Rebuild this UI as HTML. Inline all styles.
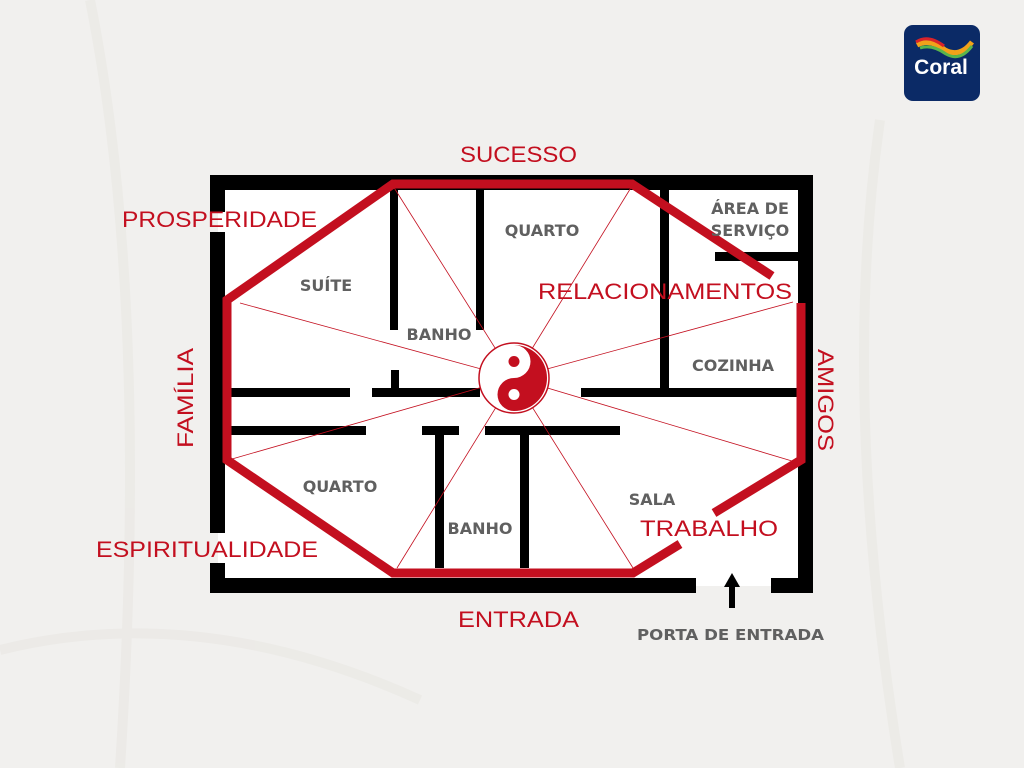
<!DOCTYPE html>
<html><head><meta charset="utf-8"><style>
body{margin:0;width:1024px;height:768px;background:#f1f0ee;overflow:hidden}
svg{display:block}
.r{fill:#c30f1f;font-family:"Liberation Sans",sans-serif;font-size:22px;font-weight:500}
.g{fill:#606060;font-family:"DejaVu Sans","Liberation Sans",sans-serif;font-size:16px;font-weight:bold}
</style></head><body>
<svg width="1024" height="768" viewBox="0 0 1024 768">
<rect width="1024" height="768" fill="#f1f0ee"/>
<g stroke="#e9e7e3" stroke-width="10" fill="none" opacity="0.6">
<path d="M90 0 Q150 300 120 768"/><path d="M880 120 Q840 400 900 768"/><path d="M0 650 Q200 600 420 700"/>
</g>
<rect x="218" y="182" width="588" height="404" fill="#fff"/>
<g fill="#000">
<rect x="210" y="175" width="603" height="15"/>
<rect x="210" y="175" width="15" height="37"/>
<rect x="210" y="232" width="15" height="301"/>
<rect x="210" y="563" width="15" height="30"/>
<rect x="798" y="175" width="15" height="418"/>
<rect x="210" y="578" width="486" height="15"/>
<rect x="771" y="578" width="42" height="15"/>
<rect x="390" y="188" width="8" height="142"/>
<rect x="476" y="188" width="8" height="142"/>
<rect x="660" y="188" width="9" height="200"/>
<rect x="715" y="252" width="85" height="9"/>
<rect x="231" y="388" width="119" height="9"/>
<rect x="372" y="388" width="108" height="9"/>
<rect x="391" y="370" width="8" height="20"/>
<rect x="581" y="388" width="218" height="9"/>
<rect x="231" y="426" width="135" height="9"/>
<rect x="422" y="426" width="37" height="9"/>
<rect x="485" y="426" width="135" height="9"/>
<rect x="435" y="426" width="9" height="142"/>
<rect x="520" y="426" width="9" height="142"/>
</g>
<g stroke="#c30f1f" stroke-width="0.8" fill="none">
<line x1="514" y1="378" x2="393" y2="186"/>
<line x1="514" y1="378" x2="632" y2="186"/>
<line x1="514" y1="378" x2="240" y2="303"/>
<line x1="514" y1="378" x2="793" y2="302"/>
<line x1="514" y1="378" x2="232" y2="459"/>
<line x1="514" y1="378" x2="792" y2="461"/>
<line x1="514" y1="378" x2="397" y2="568"/>
<line x1="514" y1="378" x2="633" y2="568"/>
</g>
<g stroke="#c30f1f" stroke-width="9" fill="none" stroke-linejoin="miter">
<polyline points="772,276 632,184 393,184 227,300 227,460 393,573 633,573 680,544"/>
<polyline points="714,513 801,460 801,303"/>
</g>
<g transform="translate(514,378)">
<circle r="35" fill="#fff" stroke="#c30f1f" stroke-width="1.5"/>
<path d="M0,-33 A33,33 0 0 1 0,33 A16.5,16.5 0 0 1 0,0 A16.5,16.5 0 0 0 0,-33Z" fill="#c30f1f"/>
<circle cy="-16.5" r="5.5" fill="#c30f1f"/>
<circle cy="16.5" r="5.5" fill="#fff"/>
</g>
<text class="r" x="460" y="162" textLength="117" lengthAdjust="spacingAndGlyphs">SUCESSO</text>
<text class="r" x="122" y="227" textLength="195" lengthAdjust="spacingAndGlyphs">PROSPERIDADE</text>
<text class="r" x="538" y="299" textLength="254" lengthAdjust="spacingAndGlyphs">RELACIONAMENTOS</text>
<text class="r" x="96" y="557" textLength="222" lengthAdjust="spacingAndGlyphs">ESPIRITUALIDADE</text>
<text class="r" x="640" y="536" textLength="138" lengthAdjust="spacingAndGlyphs">TRABALHO</text>
<text class="r" x="458" y="627" textLength="121" lengthAdjust="spacingAndGlyphs">ENTRADA</text>
<text class="r" transform="translate(193,448) rotate(-90)" textLength="100" lengthAdjust="spacingAndGlyphs">FAMÍLIA</text>
<text class="r" transform="translate(818,349) rotate(90)" textLength="102" lengthAdjust="spacingAndGlyphs">AMIGOS</text>
<text class="g" x="750" y="214" text-anchor="middle">ÁREA DE</text>
<text class="g" x="750" y="236" text-anchor="middle">SERVIÇO</text>
<text class="g" x="542" y="236" text-anchor="middle">QUARTO</text>
<text class="g" x="326" y="291" text-anchor="middle">SUÍTE</text>
<text class="g" x="439" y="340" text-anchor="middle">BANHO</text>
<text class="g" x="733" y="371" text-anchor="middle">COZINHA</text>
<text class="g" x="340" y="492" text-anchor="middle">QUARTO</text>
<text class="g" x="480" y="534" text-anchor="middle">BANHO</text>
<text class="g" x="652" y="505" text-anchor="middle">SALA</text>
<text class="g" x="637" y="640" textLength="187" lengthAdjust="spacingAndGlyphs" style="font-size:15px">PORTA DE ENTRADA</text>
<rect x="729" y="585" width="6" height="23" fill="#000"/>
<polygon points="732,573 740,587 724,587" fill="#000"/>
<rect x="904" y="25" width="76" height="76" rx="9" fill="#0b2a66"/>
<path d="M917 45 Q930 38 945 50 Q960 58 972 42" stroke="#f2a21a" stroke-width="5" fill="none"/>
<path d="M920 48 Q932 44 946 54 Q960 62 972 46" stroke="#5ab54b" stroke-width="3" fill="none"/>
<path d="M916 42 Q928 34 944 46" stroke="#d8232a" stroke-width="3" fill="none"/>
<text x="941" y="74" text-anchor="middle" fill="#fff" font-family="Liberation Sans,sans-serif" font-weight="bold" font-size="21">Coral</text>
</svg>
</body></html>
